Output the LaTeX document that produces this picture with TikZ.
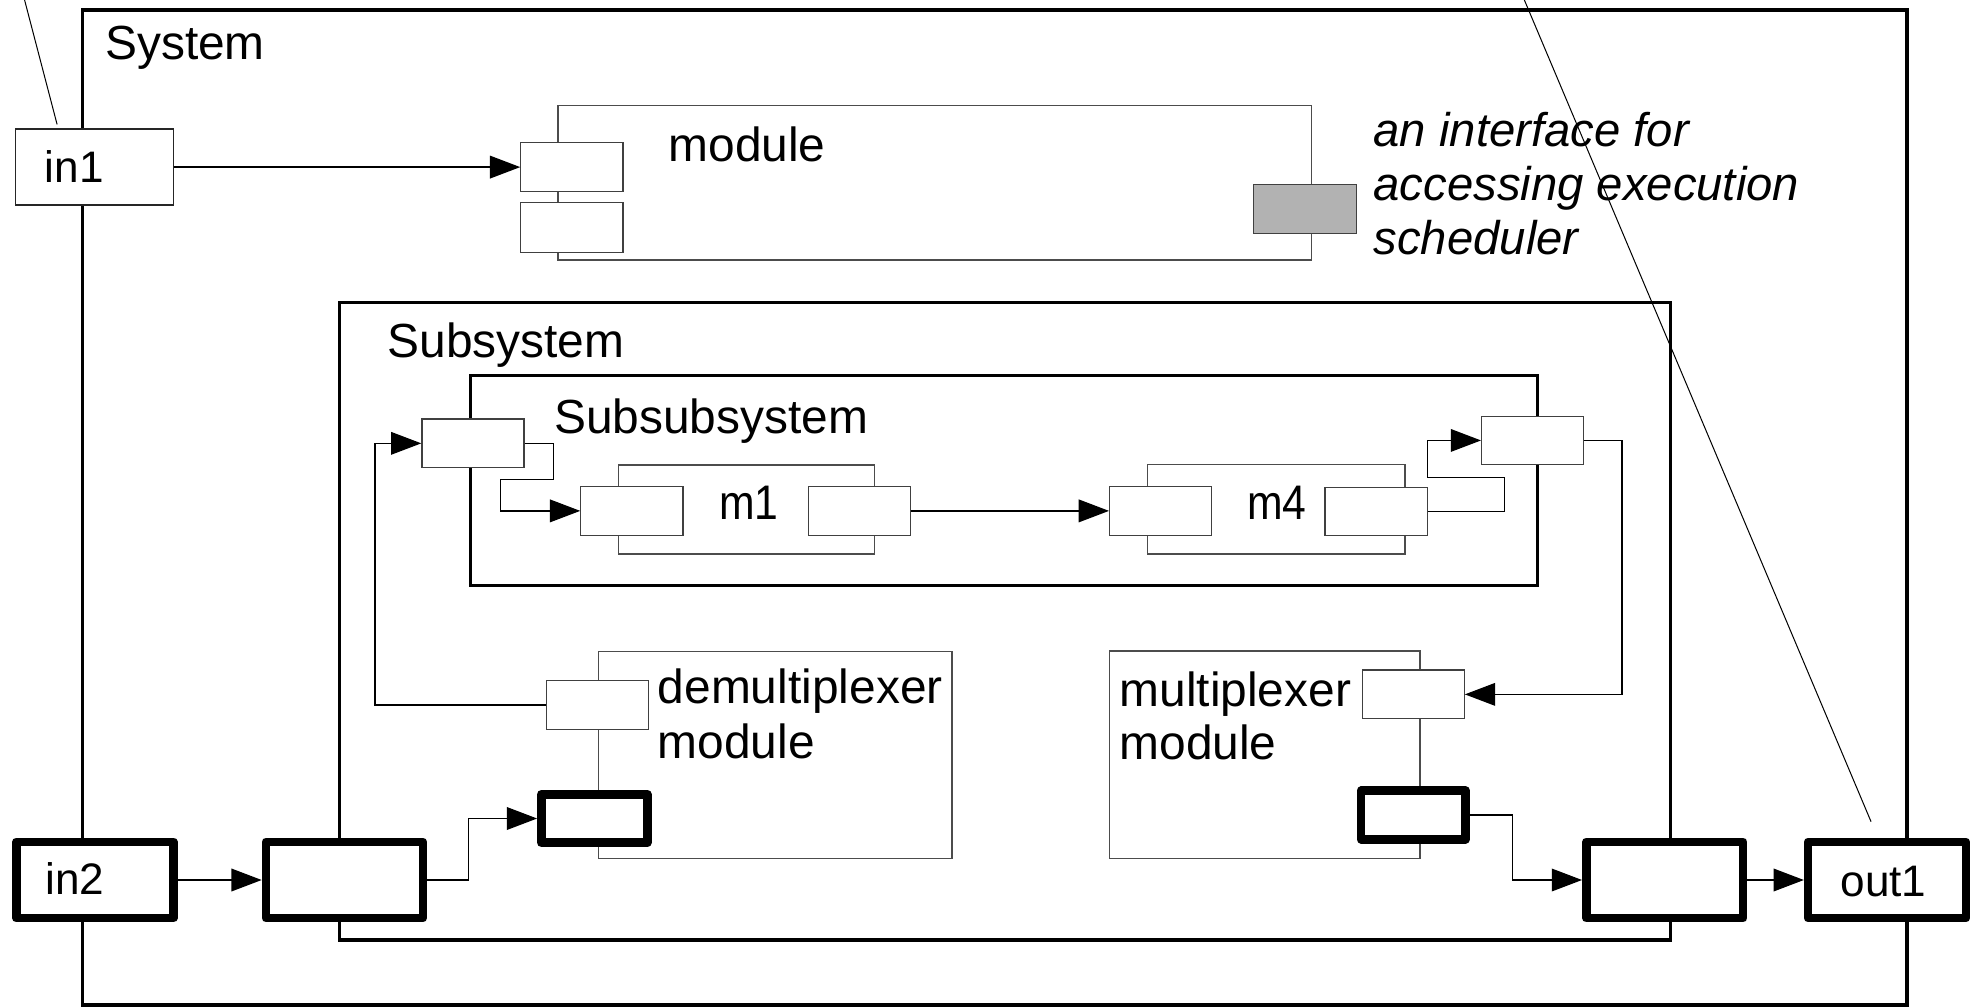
\documentclass[tikz,border=0pt]{standalone}
\usepackage{fontspec}
\setmainfont{Liberation Sans}
\newfontfamily\narrowsans[FakeStretch=0.88]{Liberation Sans}
\usetikzlibrary{arrows.meta}
\begin{document}
\begin{tikzpicture}[x=1pt,y=-1pt,
  frame/.style={draw, line width=#1, inner sep=0pt, outer sep=0pt, fill=white},
  modbox/.style={draw=black!70, line width=1pt, fill=white, inner sep=0pt},
  port/.style={draw=black!75, line width=1pt, fill=white, inner sep=0pt,
    minimum width=81pt, minimum height=38.5pt},
  iobox/.style={draw=black!85, line width=1pt, fill=white, inner sep=0pt},
  boldport/.style={draw, line width=6.8pt, line join=round, fill=white, inner sep=0pt},
  conn/.style={draw, line width=1pt},
  arr/.style={conn, -{Triangle[length=24pt,width=18pt]}},
  lbl/.style={anchor=base west, inner sep=0pt, font=\fontsize{38pt}{44pt}\selectfont},
  sml/.style={anchor=base west, inner sep=0pt, font=\fontsize{35pt}{42pt}\selectfont},
  mlbl/.style={anchor=base west, inner sep=0pt, font=\narrowsans\fontsize{38.5pt}{44pt}\selectfont},
  note/.style={anchor=base west, inner sep=0pt, font=\fontsize{37.5pt}{43pt}\selectfont\itshape},
  leader/.style={draw, line width=0.8pt}]
\useasboundingbox (0,0) rectangle (1568,799);

% enclosing frames and module bodies
\node[frame=2.6pt, minimum width=1447.8pt, minimum height=789.6pt] (system) at (789.4,402.7) {};
\node[modbox, minimum width=597.8pt, minimum height=122.8pt] (module) at (741.7,144.9) {};
\node[frame=2.4pt, minimum width=1055.9pt, minimum height=505.7pt] (subsys) at (797.25,493.05) {};
\node[frame=2.4pt, minimum width=846.8pt, minimum height=166.4pt] (subsub) at (796.4,381.5) {};
\node[modbox, minimum width=203pt, minimum height=70.6pt] (m1) at (592.5,404.3) {};
\node[modbox, minimum width=204pt, minimum height=70.9pt] (m4) at (1012.8,404.2) {};
\node[modbox, minimum width=280.4pt, minimum height=164.3pt] (demux) at (615.2,599.25) {};
\node[modbox, minimum width=246.2pt, minimum height=164.8pt] (mux) at (1003.7,599) {};

% ports
\node[iobox, minimum width=125pt, minimum height=60.3pt] (in1) at (75,132.6) {};
\node[port, minimum height=39pt] (modpA) at (453.8,132.6) {};
\node[port, minimum height=39.4pt] (modpB) at (453.8,180.5) {};
\node[port, fill=black!30, minimum width=82pt, minimum height=38.8pt] (sched) at (1035.4,165.7) {};
\node[port] (ssL) at (375.3,351.8) {};
\node[port] (ssR) at (1216.2,349.5) {};
\node[port] (m1in) at (501.4,405.4) {};
\node[port] (m1out) at (682,405.4) {};
\node[port] (m4in) at (921,405.4) {};
\node[port] (m4out) at (1092,405.8) {};
\node[port] (dmxT) at (474,559.4) {};
\node[port] (mxT) at (1121.4,551) {};
\node[boldport, minimum width=84pt, minimum height=38.5pt] (dmxB) at (471.6,649.5) {};
\node[boldport, minimum width=83pt, minimum height=38.5pt] (mxB) at (1121.5,646.7) {};
\node[boldport, minimum width=124.8pt, minimum height=60.6pt] (in2) at (75.3,698.3) {};
\node[boldport, minimum width=124.5pt, minimum height=60.6pt] (sysL) at (273.3,698.3) {};
\node[boldport, minimum width=124.5pt, minimum height=60.6pt] (sysR) at (1321,698.3) {};
\node[boldport, minimum width=125.2pt, minimum height=60.6pt] (out1) at (1497.4,698.3) {};

% connectors
\draw[arr] (in1.east) -- (modpA.west);
\draw[arr] (dmxT.west) -| (297.5,400) |- (ssL.west);
\draw[arr] (ssL.east) -| (439.5,380.4) -| (397,405.4) -- (m1in.west);
\draw[arr] (m1out.east) -- (m4in.west);
\draw[arr] (m4out.east) -| (1193.8,378.8) -| (1133,349.5) -- (ssR.west);
\draw[arr] (ssR.east) -| (1287,551) -- (mxT.east);
\draw[arr] (in2.east) -- (sysL.west);
\draw[arr] (sysL.east) -| (371.6,649.5) -- (dmxB.west);
\draw[arr] (mxB.east) -| (1200.3,698.3) -- (sysR.west);
\draw[arr] (sysR.east) -- (out1.west);

% labels
\node[lbl] (tSystem) at (83.3,47.6) {System};
\node[lbl] (tModule) at (530.3,128.5) {module};
\node[lbl] (tSubsys) at (307.4,283.6) {Subsystem};
\node[lbl] (tSubsub) at (439.5,343.9) {Subsubsystem};
\node[mlbl] (tM1) at (570.5,412.4) {m1};
\node[mlbl] (tM4) at (989.5,412.4) {m4};
\node[lbl] (tDemuxA) at (521.8,558.5) {demultiplexer};
\node[lbl] (tDemuxB) at (521.8,601.5) {module};
\node[lbl] (tMuxA) at (888.2,561) {multiplexer};
\node[lbl] (tMuxB) at (888.2,603) {module};
\node[sml] (tIn1) at (35.4,145) {in1};
\node[sml] (tIn2) at (35.7,709.5) {in2};
\node[sml] (tOut1) at (1460.4,711.5) {out1};
\node[note] (tNoteA) at (1089.8,116.4) {an interface for};
\node[note] (tNoteB) at (1089.8,159.2) {accessing execution};
\node[note] (tNoteC) at (1089.8,202) {scheduler};

% annotation leader lines
\coordinate (leadA) at (19.5,0);
\coordinate (leadAend) at (45.3,98.7);
\coordinate (leadB) at (1209.6,0);
\coordinate (leadBend) at (1484.7,652);
\draw[leader] (leadA) -- (leadAend);
\draw[leader] (leadB) -- (leadBend);
\end{tikzpicture}
\end{document}
